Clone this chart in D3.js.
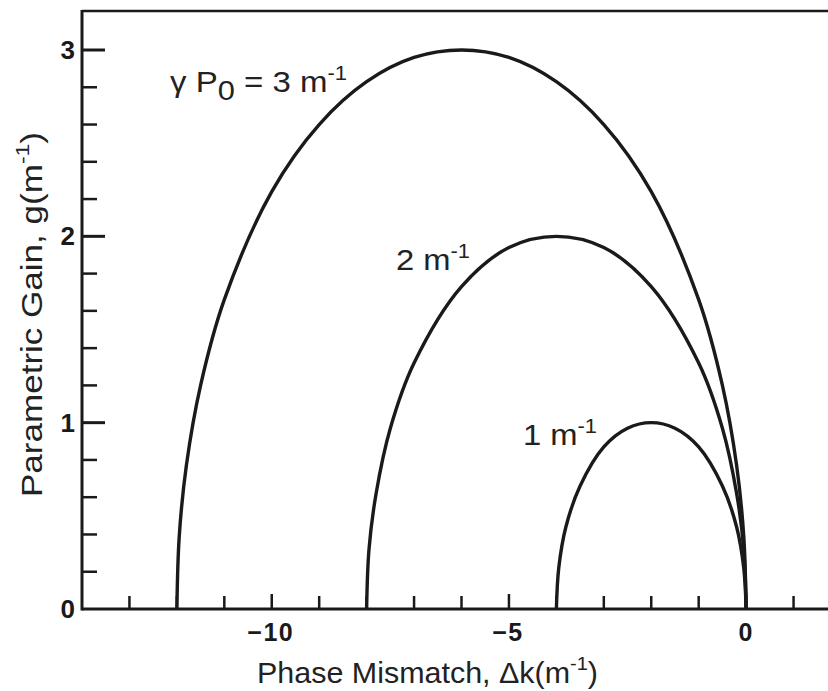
<!DOCTYPE html>
<html><head><meta charset="utf-8">
<script src="https://cdn.jsdelivr.net/npm/d3@7"></script>
<style>body{margin:0;background:#fff}</style>
</head><body>
<svg id="c" width="828" height="691"></svg>
<script>
// Data
const dk3 = [-12,-11.95,-11.8,-11.5,-11,-10,-9,-8,-7,-6,-5,-4,-3,-2,-1,-0.5,-0.2,-0.05,0];
const g3  = [0,0.39,0.77,1.20,1.66,2.24,2.60,2.83,2.96,3.00,2.96,2.83,2.60,2.24,1.66,1.20,0.77,0.39,0];
const dk2 = [-8,-7.95,-7.8,-7.5,-7,-6,-5,-4,-3,-2,-1,-0.5,-0.2,-0.05,0];
const g2  = [0,0.32,0.62,0.97,1.32,1.73,1.94,2.00,1.94,1.73,1.32,0.97,0.62,0.32,0];
const dk1 = [-4,-3.95,-3.8,-3.5,-3,-2.5,-2,-1.5,-1,-0.5,-0.2,-0.05,0];
const g1  = [0,0.22,0.44,0.66,0.87,0.97,1.00,0.97,0.87,0.66,0.44,0.22,0];
const xTicksMajor = [-10,-5,0];
const xTickLabels = ["\u221210","\u22125","0"];
const xTicksMinor = [-13,-12,-11,-9,-8,-7,-6,-4,-3,-2,-1,1];
const yTicksMajor = [0,1,2,3];
const yTicksMinor = [0.2,0.4,0.6,0.8,1.2,1.4,1.6,1.8,2.2,2.4,2.6,2.8];

const svg = d3.select("#c");
const L = 82, R = 828, T = 11, B = 609;
const x = d3.scaleLinear().domain([-14, 1.726]).range([L, R]);
const y = d3.scaleLinear().domain([0, 3]).range([B, 50]);
const font = "'Liberation Sans',Arial,sans-serif";
const ink = "#1a1a1a";

// frame
svg.append("line").attr("x1",L).attr("x2",R).attr("y1",T).attr("y2",T).attr("stroke",ink).attr("stroke-width",2.5);
svg.append("line").attr("x1",L).attr("x2",L).attr("y1",T-1).attr("y2",B+1.5).attr("stroke",ink).attr("stroke-width",3);
svg.append("line").attr("x1",L).attr("x2",R).attr("y1",B).attr("y2",B).attr("stroke",ink).attr("stroke-width",3);

// y ticks
svg.selectAll(".ytM").data(yTicksMajor.filter(d=>d>0)).enter().append("line")
  .attr("x1",L).attr("x2",L+23).attr("y1",d=>y(d)).attr("y2",d=>y(d)).attr("stroke",ink).attr("stroke-width",3);
svg.selectAll(".ytm").data(yTicksMinor).enter().append("line")
  .attr("x1",L).attr("x2",L+15).attr("y1",d=>y(d)).attr("y2",d=>y(d)).attr("stroke",ink).attr("stroke-width",2.5);
svg.selectAll(".ytl").data(yTicksMajor).enter().append("text")
  .attr("x",75).attr("y",d=>y(d)+9).attr("text-anchor","end")
  .attr("font-family",font).attr("font-weight","bold").attr("font-size",26).attr("fill",ink)
  .text(d=>d);

// x ticks
svg.selectAll(".xtM").data(xTicksMajor).enter().append("line")
  .attr("x1",d=>x(d)).attr("x2",d=>x(d)).attr("y1",B).attr("y2",B-15).attr("stroke",ink).attr("stroke-width",2.5);
svg.selectAll(".xtm").data(xTicksMinor).enter().append("line")
  .attr("x1",d=>x(d)).attr("x2",d=>x(d)).attr("y1",B).attr("y2",B-13).attr("stroke",ink).attr("stroke-width",2.5);
svg.selectAll(".xtl").data(xTicksMajor).enter().append("text")
  .attr("x",(d,i)=>x(d)+(i<2?-1:0)).attr("y",641).attr("text-anchor","middle")
  .attr("font-family",font).attr("font-weight","bold").attr("font-size",25).attr("letter-spacing",1.5).attr("fill",ink)
  .text((d,i)=>xTickLabels[i]);

// curves
const line = d3.line().x(d=>x(d[0])).y(d=>y(d[1])).curve(d3.curveCatmullRom.alpha(0.5));
[[dk3,g3],[dk2,g2],[dk1,g1]].forEach(([a,b])=>{
  svg.append("path").datum(a.map((v,i)=>[v,b[i]])).attr("d",line)
    .attr("fill","none").attr("stroke",ink).attr("stroke-width",3.4);
});

// annotations
function label(tx,ty,len,parts){
  const t = svg.append("text").attr("x",tx).attr("y",ty).attr("font-family",font).attr("font-size",30).attr("fill","#222")
    .attr("textLength",len).attr("lengthAdjust","spacingAndGlyphs");
  parts.forEach(p=>{
    const s = t.append("tspan").text(p.t);
    if(p.sup){ s.attr("font-size",20).attr("dy",-12); }
    if(p.sub){ s.attr("font-size",28).attr("dy",8); }
    if(p.base!==undefined){ s.attr("dy",p.base); }
  });
}
label(170,92,177,[{t:"\u03b3 P"},{t:"0",sub:true},{t:" = 3 m",base:-8},{t:"-1",sup:true}]);
label(396,270,74,[{t:"2 m"},{t:"-1",sup:true}]);
label(523,445,74,[{t:"1 m"},{t:"-1",sup:true}]);

// axis titles
const xt = svg.append("text").attr("x",257).attr("y",683)
  .attr("font-family",font).attr("font-size",29).attr("fill","#222")
  .attr("textLength",341).attr("lengthAdjust","spacingAndGlyphs");
xt.append("tspan").text("Phase Mismatch, \u0394k(m");
xt.append("tspan").text("-1").attr("font-size",19).attr("dy",-13);
xt.append("tspan").text(")").attr("dy",13);

const yt = svg.append("text").attr("transform","translate(42,497) rotate(-90)")
  .attr("font-family",font).attr("font-size",29).attr("fill","#222")
  .attr("textLength",365).attr("lengthAdjust","spacingAndGlyphs");
yt.append("tspan").text("Parametric Gain, g(m");
yt.append("tspan").text("-1").attr("font-size",19).attr("dy",-13);
yt.append("tspan").text(")").attr("dy",13);
</script>
</body></html>
